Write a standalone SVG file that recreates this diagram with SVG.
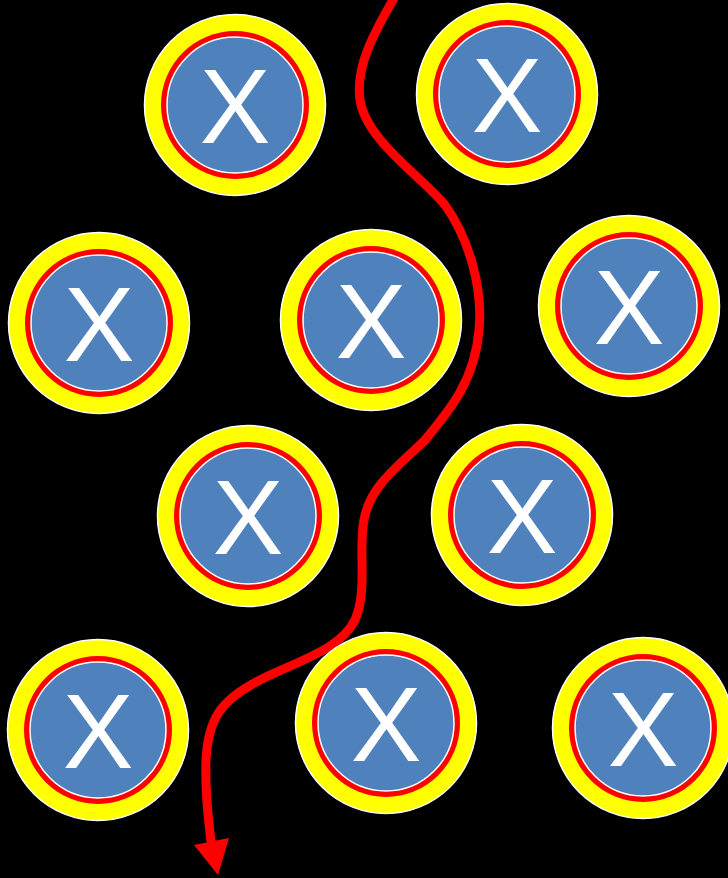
<svg xmlns="http://www.w3.org/2000/svg" width="728" height="878" viewBox="0 0 728 878">
<style>
.ring{fill:#ffff00;stroke:#ffffff;stroke-width:1.5}
.red{fill:#ff0000}
.core{fill:#4f81bd;stroke:#ffffff;stroke-width:1.5}
.lbl{font-family:"Liberation Sans",Arial,sans-serif;font-size:106px;fill:#ffffff;text-anchor:middle}
.path{fill:none;stroke:#ff0000;stroke-width:9;stroke-linecap:butt}
</style>
<defs>
<g id="node">
<circle class="ring" r="90.5"/>
<circle class="red" r="74"/>
<circle class="core" r="68"/>
</g>
</defs>
<rect width="728" height="878" fill="#000000"/>
<g id="connectors">
<path class="path" d="M394,-2 C376,30 355,65 360,100 C366,140 420,175 445,205 C470,240 483,290 479,330 C475,380 450,410 425,440 C400,465 370,485 364,520 C358,550 368,590 355,620 C340,650 300,660 260,680 C220,700 208,720 206,760 C205,790 208,815 211,842"/>
<polygon fill="#ff0000" points="194,845 229,838 218,875"/>
</g>
<g id="n1"><use href="#node" x="235" y="105"/><text class="lbl" x="235" y="143">X</text></g>
<g id="n2"><use href="#node" x="507" y="94"/><text class="lbl" x="507" y="132">X</text></g>
<g id="n3"><use href="#node" x="99" y="323"/><text class="lbl" x="99" y="361">X</text></g>
<g id="n4"><use href="#node" x="371" y="320"/><text class="lbl" x="371" y="358">X</text></g>
<g id="n5"><use href="#node" x="629" y="306"/><text class="lbl" x="629" y="344">X</text></g>
<g id="n6"><use href="#node" x="248" y="516"/><text class="lbl" x="248" y="554">X</text></g>
<g id="n7"><use href="#node" x="522" y="515"/><text class="lbl" x="522" y="553">X</text></g>
<g id="n8"><use href="#node" x="98" y="730"/><text class="lbl" x="98" y="768">X</text></g>
<g id="n9"><use href="#node" x="386" y="723"/><text class="lbl" x="386" y="761">X</text></g>
<g id="n10"><use href="#node" x="643" y="728"/><text class="lbl" x="643" y="766">X</text></g>
</svg>
